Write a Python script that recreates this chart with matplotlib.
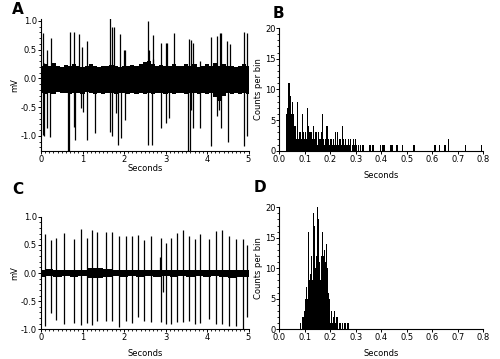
import numpy as np
import matplotlib
matplotlib.use('Agg')
import matplotlib.pyplot as plt
from matplotlib.ticker import MultipleLocator

# ---- panel A: noisy trace, spikes ----
a_noise_t = np.arange(0, 5.01, 0.1)
a_noise_hi = [0.22, 0.24, 0.22, 0.26, 0.22, 0.20, 0.23, 0.22, 0.24, 0.21, 0.20, 0.22, 0.24,
              0.21, 0.20, 0.22, 0.21, 0.23, 0.22, 0.20, 0.22, 0.21, 0.23, 0.22, 0.24, 0.28,
              0.30, 0.24, 0.22, 0.23, 0.21, 0.22, 0.24, 0.21, 0.22, 0.25, 0.22, 0.24, 0.20,
              0.22, 0.24, 0.21, 0.26, 0.22, 0.24, 0.21, 0.22, 0.20, 0.22, 0.24, 0.22]
a_noise_lo = [-0.26, -0.28, -0.25, -0.27, -0.24, -0.26, -0.25, -0.28, -0.26, -0.25, -0.27,
              -0.24, -0.26, -0.28, -0.25, -0.27, -0.26, -0.25, -0.28, -0.26, -0.25, -0.27,
              -0.26, -0.28, -0.25, -0.27, -0.26, -0.28, -0.25, -0.26, -0.27, -0.25, -0.28,
              -0.26, -0.25, -0.27, -0.26, -0.25, -0.28, -0.26, -0.27, -0.25, -0.32, -0.40,
              -0.30, -0.26, -0.27, -0.25, -0.28, -0.26, -0.27]

a_up_t = [0.04, 0.08, 0.14, 0.23, 0.70, 0.80, 0.92, 0.98, 1.12, 1.66, 1.70, 1.76, 1.91, 2.01,
          2.03, 2.57, 2.60, 2.69, 2.71, 2.89, 3.01, 3.04, 3.20, 3.56, 3.62, 3.67, 3.84, 4.10,
          4.25, 4.31, 4.34, 4.48, 4.56, 4.88, 4.96]
a_up_v = [0.78, 0.27, 0.49, 0.70, 0.80, 0.80, 0.77, 0.55, 0.65, 1.05, 0.90, 0.90, 0.77, 0.49,
          0.49, 1.00, 0.50, 0.75, 0.33, 0.61, 0.62, 0.61, 0.79, 0.68, 0.67, 0.61, 0.30, 0.72,
          0.74, 0.78, 0.78, 0.65, 0.60, 0.81, 0.78]
a_dn_t = [0.04, 0.08, 0.14, 0.22, 0.66, 0.68, 0.80, 0.82, 0.96, 1.00, 1.12, 1.29, 1.66, 1.70,
          1.80, 1.86, 1.92, 2.02, 2.59, 2.67, 2.89, 3.01, 3.09, 3.55, 3.58, 3.62, 3.67, 3.82,
          4.09, 4.24, 4.28, 4.34, 4.50, 4.88, 4.96]
a_dn_v = [-0.98, -1.00, -0.87, -1.02, -1.26, -1.26, -0.84, -1.07, -0.52, -0.58, -1.07, -0.95,
          -0.94, -1.00, -0.60, -1.16, -1.04, -0.72, -1.16, -1.16, -0.87, -0.78, -0.69, -1.26,
          -1.26, -0.55, -0.87, -0.87, -1.17, -0.66, -0.55, -0.86, -1.10, -1.18, -1.01]

# ---- panel B: interval histogram (0.004 s bins) ----
b_start = 0.028
b_counts = [6, 7, 11, 9, 6, 8, 6, 4, 4, 2, 8, 2, 3, 3, 2, 6, 3, 2, 3, 2, 7, 4, 3, 3, 3, 2,
            4, 2, 3, 3, 1, 3, 2, 2, 3, 6, 2, 1, 2, 4, 4, 2, 1, 2, 2, 1, 2, 1, 3, 1, 3, 1,
            2, 1, 4, 2, 1, 2, 1, 1, 2, 1, 2, 0, 1, 2, 1, 2, 1, 0, 1, 0, 1, 0, 1, 1]
b_sparse_t = [0.352, 0.356, 0.364, 0.368, 0.396, 0.404, 0.408, 0.412, 0.436, 0.440, 0.456,
              0.460, 0.480, 0.524, 0.528, 0.608, 0.612, 0.628, 0.644, 0.648, 0.660, 0.728,
              0.792]
b_sparse_c = [1, 1, 1, 1, 1, 1, 1, 1, 1, 1, 1, 1, 1, 1, 1, 1, 1, 1, 1, 1, 2, 1, 1]

# ---- panel C: clean trace with regular spikes ----
c_noise_t = np.arange(0, 5.01, 0.2)
c_noise_hi = [0.06, 0.07, 0.05, 0.06, 0.05, 0.06, 0.08, 0.08, 0.07, 0.06, 0.05, 0.06, 0.05,
              0.06, 0.05, 0.06, 0.05, 0.06, 0.05, 0.05, 0.06, 0.05, 0.05, 0.06, 0.05, 0.06]
c_noise_lo = [-0.07, -0.06, -0.07, -0.06, -0.07, -0.06, -0.08, -0.08, -0.07, -0.06, -0.07,
              -0.06, -0.07, -0.06, -0.07, -0.06, -0.07, -0.06, -0.07, -0.06, -0.07, -0.06,
              -0.07, -0.08, -0.07, -0.07]
c_t = [0.10, 0.23, 0.36, 0.55, 0.79, 0.97, 1.11, 1.23, 1.35, 1.57, 1.70, 1.88, 2.05, 2.20,
       2.33, 2.48, 2.65, 2.88, 3.00, 3.14, 3.28, 3.41, 3.56, 3.70, 3.84, 4.04, 4.21, 4.36,
       4.54, 4.70, 4.86, 4.96]
c_up = [0.70, 0.58, 0.62, 0.71, 0.60, 0.79, 0.62, 0.77, 0.72, 0.72, 0.72, 0.66, 0.65, 0.65,
        0.68, 0.58, 0.65, 0.63, 0.53, 0.63, 0.71, 0.76, 0.65, 0.60, 0.70, 0.60, 0.75, 0.76,
        0.65, 0.60, 0.60, 0.50]
c_dn = [-0.94, -0.71, -0.84, -0.90, -0.89, -0.93, -0.89, -0.93, -0.85, -0.85, -0.85, -0.96,
        -0.85, -0.88, -0.78, -0.85, -0.87, -0.87, -0.90, -0.90, -0.87, -0.87, -0.85, -0.90,
        -0.88, -0.82, -0.90, -0.90, -0.94, -0.94, -1.00, -0.78]
c_extra_t = [2.86, 2.95]
c_extra_v = [0.28, -0.33]

# ---- panel D: interval histogram (0.004 s bins) ----
d_start = 0.080
d_counts = [1, 0, 2, 2, 3, 5, 7, 5, 16, 8, 9, 12, 8, 19, 17, 10, 12, 20, 18, 11, 8, 12, 16,
            12, 13, 11, 14, 10, 6, 5, 1, 3, 1, 2, 3, 1, 2, 2, 0, 1, 0, 1, 0, 1, 1, 0, 1, 1]
bin_w = 0.004

fs = 6
plt.rcParams['font.family'] = 'DejaVu Sans'
plt.rcParams['font.size'] = fs

fig = plt.figure(figsize=(5.0, 3.59), dpi=100)
axA = fig.add_axes([0.082, 0.580, 0.415, 0.367])
axB = fig.add_axes([0.5586, 0.580, 0.408, 0.342])
axC = fig.add_axes([0.082, 0.0827, 0.415, 0.3137])
axD = fig.add_axes([0.5586, 0.0827, 0.408, 0.340])


def style(ax, xpad, ypad):
    for s in ['top', 'right']:
        ax.spines[s].set_visible(False)
    for s in ['left', 'bottom']:
        ax.spines[s].set_linewidth(0.8)
    ax.tick_params(which='major', direction='out', length=2, width=0.7, labelsize=fs, pad=0.8)
    ax.tick_params(which='minor', direction='out', length=1.2, width=0.6)
    ax.xaxis.labelpad = xpad
    ax.yaxis.labelpad = ypad


# A
axA.fill_between(a_noise_t, a_noise_lo, a_noise_hi, step='mid', color='black', lw=0)
axA.vlines(a_up_t, 0, a_up_v, color='black', lw=0.9)
axA.vlines(a_dn_t, a_dn_v, 0, color='black', lw=0.9)
axA.set_xlim(0, 5)
axA.set_ylim(-1.26, 1.03)
axA.set_yticks([-1.0, -0.5, 0.0, 0.5, 1.0])
axA.set_yticklabels(['-1.0', '-0.5', '0.0', '0.5', '1.0'])
axA.xaxis.set_minor_locator(MultipleLocator(0.1))
axA.yaxis.set_minor_locator(MultipleLocator(0.1))
axA.set_xlabel('Seconds', fontsize=fs)
axA.set_ylabel('mV', fontsize=fs)
style(axA, 0, 1.5)

# B
axB.bar(b_start + bin_w * np.arange(len(b_counts)), b_counts, width=bin_w, align='edge',
        color='black', lw=0)
axB.bar(b_sparse_t, b_sparse_c, width=bin_w, align='edge', color='black', lw=0)
axB.set_xlim(0, 0.8)
axB.set_ylim(0, 20)
axB.set_xticks(np.arange(0, 0.81, 0.1))
axB.set_xticklabels(['0.0', '0.1', '0.2', '0.3', '0.4', '0.5', '0.6', '0.7', '0.8'])
axB.set_yticks([0, 5, 10, 15, 20])
axB.yaxis.set_minor_locator(MultipleLocator(1))
axB.set_xlabel('Seconds', fontsize=fs)
axB.set_ylabel('Counts per bin', fontsize=fs)
style(axB, 5, 1.5)

# C
axC.fill_between(c_noise_t, c_noise_lo, c_noise_hi, step='mid', color='black', lw=0)
axC.vlines(c_t, c_dn, c_up, color='black', lw=0.9)
axC.vlines(c_extra_t, 0, c_extra_v, color='black', lw=0.9)
axC.set_xlim(0, 5)
axC.set_ylim(-1.0, 1.0)
axC.set_yticks([-1.0, -0.5, 0.0, 0.5, 1.0])
axC.set_yticklabels(['-1.0', '-0.5', '0.0', '0.5', '1.0'])
axC.xaxis.set_minor_locator(MultipleLocator(0.1))
axC.yaxis.set_minor_locator(MultipleLocator(0.1))
axC.set_xlabel('Seconds', fontsize=fs)
axC.set_ylabel('mV', fontsize=fs)
style(axC, 5, 1.5)

# D
axD.bar(d_start + bin_w * np.arange(len(d_counts)), d_counts, width=bin_w, align='edge',
        color='black', lw=0)
axD.set_xlim(0, 0.8)
axD.set_ylim(0, 20)
axD.set_xticks(np.arange(0, 0.81, 0.1))
axD.set_xticklabels(['0.0', '0.1', '0.2', '0.3', '0.4', '0.5', '0.6', '0.7', '0.8'])
axD.set_yticks([0, 5, 10, 15, 20])
axD.yaxis.set_minor_locator(MultipleLocator(1))
axD.set_xlabel('Seconds', fontsize=fs)
axD.set_ylabel('Counts per bin', fontsize=fs)
style(axD, 5, 1.5)

# panel letters
for x, y, s in [(12, 10, 'A'), (273, 13, 'B'), (12, 189, 'C'), (254, 187, 'D')]:
    fig.text(x / 500, 1 - y / 359, s, fontsize=11, fontweight='bold', va='center', ha='left')

fig.savefig('out.png', dpi=100)
